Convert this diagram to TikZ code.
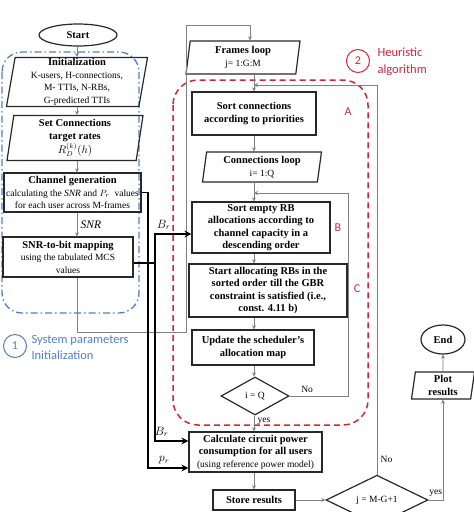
\documentclass[tikz,border=0pt]{standalone}
\usepackage{fontspec}
\setmainfont{Liberation Serif}
\newfontfamily\notefont{Carlito}
\usetikzlibrary{shapes.geometric,arrows.meta}
\definecolor{sysblue}{RGB}{84,126,192}
\definecolor{heured}{RGB}{204,40,58}
\definecolor{flowgray}{RGB}{128,128,128}
\definecolor{boxline}{RGB}{40,40,40}
\newcommand{\sm}{\fontsize{9.5}{11.5}\selectfont\mdseries}

\begin{document}
\begin{tikzpicture}[x=1pt,y=-1pt]
\tikzset{box/.style = {rectangle, draw=boxline, line width=1.2pt, align=center, inner sep=1pt, font=\fontsize{10.5}{12.5}\selectfont\bfseries}}
\tikzset{io/.style = {box, trapezium, trapezium left angle=80, trapezium right angle=100, trapezium stretches body}}
\tikzset{term/.style = {box, ellipse}}
\tikzset{decide/.style = {diamond, draw=boxline, line width=1.2pt, inner sep=0pt, font=\sm}}
\tikzset{flow/.style = {-{Stealth[length=4pt,width=4pt]}, draw=flowgray, line width=0.8pt}}
\tikzset{bus/.style = {-{Stealth[length=7pt,width=7pt]}, line width=1.5pt}}
\tikzset{buslabel/.style = {font=\fontsize{11.5}{13}\selectfont}}
\tikzset{parttag/.style = {text=heured, font=\notefont\fontsize{12}{14}\selectfont}}
\tikzset{partnum/.style = {circle, line width=1pt, minimum size=23, inner sep=0pt, font=\notefont\fontsize{12}{14}\selectfont}}
\tikzset{partname/.style = {anchor=west, align=left, font=\notefont\fontsize{12.5}{16.5}\selectfont}}
\useasboundingbox (0,0) rectangle (474,512);
% regions
\draw[sysblue, line width=1.3pt, dash pattern=on 7pt off 3pt on 1.5pt off 3pt, rounded corners=20pt] (2,52) rectangle (139,313);
\draw[heured, line width=1.5pt, dash pattern=on 6pt off 4pt, rounded corners=25pt] (173,80) rectangle (368,425);
% left column
\node[term, minimum width=78, minimum height=22](start) at (78,35) {Start};
\node[io, minimum width=141, minimum height=46](init) at (77,82) {Initialization\\ \sm K-users, H-connections,\\ \sm M- TTIs, N-RBs,\\ \sm G-predicted TTIs};
\node[io, minimum width=136, minimum height=45](rates) at (75,138) {Set Connections\\ target rates\\ \mdseries $R_D^{(k)}(h)$};
\node[box, minimum width=137, minimum height=39](chan) at (72.5,192.5) {Channel generation\\ \sm calculating the \textit{SNR} and $P_r$ ~values\\ \sm for each user across M-frames};
\node[box, minimum width=130, minimum height=40](snr2bit) at (68,257) {SNR-to-bit mapping\\ \sm using the tabulated MCS\\ \sm values};
% right column
\node[io, minimum width=114, minimum height=33](frames) at (243,57.5) {Frames loop\\ \sm j= 1:G:M};
\node[box, minimum width=124, minimum height=43](sortconn) at (254,113.5) {Sort connections\\ according to priorities};
\node[io, minimum width=119, minimum height=30](connloop) at (262,167) {Connections loop\\ \sm i= 1:Q};
\node[box, minimum width=138, minimum height=51](sortrb) at (261,227.5) {Sort empty RB\\ allocations according to\\ channel capacity in a\\ descending order};
\node[box, minimum width=158, minimum height=53](alloc) at (268,290.5) {Start allocating RBs in the\\ sorted order till the GBR\\ constraint is satisfied (i.e.,\\ const. 4.11 b)};
\node[box, minimum width=122, minimum height=35](update) at (253,347.5) {Update the scheduler's\\ allocation map};
\node[decide, minimum width=68, minimum height=38](lastconn) at (255,396) {i = Q};
\node[box, minimum width=133, minimum height=40](power) at (255.5,452) {Calculate circuit power\\ consumption for all users\\ \sm (using reference power model)};
\node[box, minimum width=82, minimum height=20](store) at (254,500) {Store results};
\node[decide, minimum width=102, minimum height=40](lastframe) at (377,500) {j = M-G+1};
\node[io, minimum width=63, minimum height=27](plot) at (443,385.5) {Plot\\ results};
\node[term, minimum width=44, minimum height=29](finish) at (443,339.5) {End};
% labels
\node[partnum, draw=sysblue, text=sysblue](one) at (15,346) {1};
\node[partname, text=sysblue](systxt) at (28,347.5) {System parameters\\ Initialization};
\node[partnum, draw=heured, text=heured](two) at (358,61) {2};
\node[partname, text=heured](heutxt) at (374,61.5) {Heuristic\\ algorithm};
\node[parttag](taga) at (348,112) {A};
\node[parttag](tagb) at (338,228) {B};
\node[parttag](tagc) at (357,289) {C};
% axes of the columns
\coordinate (lx) at (77,0);
\coordinate (rx) at (254,0);
\coordinate (split) at (155,263);
% flow
\draw[flow] (start.south -| lx) to (init.north -| lx);
\draw[flow] (init.south -| lx) to (rates.north -| lx);
\draw[flow] (rates.south -| lx) to (chan.north -| lx);
\draw[flow] (chan.south -| lx) to node[right, font=\fontsize{11.5}{13}\selectfont\itshape]{SNR} (snr2bit.north -| lx);
\draw[flow] (snr2bit.south -| lx) |- (186,332) -- (186,25) -| (frames.north -| 250,0);
\draw[flow] (frames.south -| rx) to (sortconn.north -| rx);
\draw[flow] (sortconn.south -| rx) to (connloop.north -| rx);
\draw[flow] (connloop.south -| rx) to (sortrb.north -| rx);
\draw[flow] (sortrb.south -| rx) to (alloc.north -| rx);
\draw[flow] (alloc.south -| rx) to (update.north -| rx);
\draw[flow] (update.south -| rx) to (lastconn.north -| rx);
\draw[flow] (lastconn.south -| rx) to node[right, font=\sm, pos=0.35]{yes} (power.north -| rx);
\draw[flow] (power.south -| rx) to (store.north -| rx);
\draw[flow] (store) to (lastframe);
\draw[flow] (lastconn.east) -- node[above, pos=0.3, font=\sm]{No} (348,396) -- (348,193) -- (rx |- 0,193);
\draw[flow] (lastframe.north) -- node[pos=0.02, above right, font=\sm]{No} (lastframe.north |- 0,85) -- (rx |- 0,85);
\draw[flow] (lastframe.east) -| node[pos=0.25, above, font=\sm]{yes} (plot.south);
\draw[flow] (plot) to (finish);
% data
\draw[bus] (chan.east) -| (148,468) -- node[buslabel, above, pos=0.4]{$p_r$} (power.west |- 0,468);
\draw[line width=1.5pt] ([yshift=-6pt]snr2bit.east) -- (split);
\draw[bus] (split) |- node[buslabel, above, pos=0.62]{$B_r$} (sortrb.west |- 0,234);
\draw[bus] (split) |- node[buslabel, above, pos=0.6]{$B_r$} (power.west |- 0,441);
\end{tikzpicture}
\end{document}
